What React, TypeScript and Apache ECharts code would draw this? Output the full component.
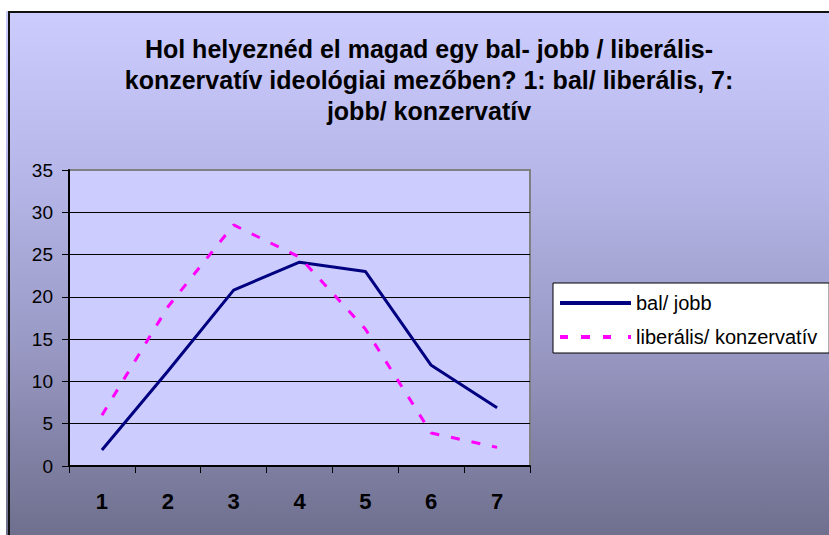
import React, { useEffect, useRef } from "react";
import * as echarts from "echarts";

const categories = ["1", "2", "3", "4", "5", "6", "7"];
const balJobb = [1.9, 11.2, 20.8, 24.1, 23.0, 11.9, 6.9];
const liberalisKonzervativ = [6.0, 18.8, 28.5, 24.7, 16.2, 3.9, 2.2];
const seriesNames = ["bal/ jobb", "liberális/ konzervatív"];
const titleText =
  "Hol helyeznéd el magad egy bal- jobb / liberális-\nkonzervatív ideológiai mezőben? 1: bal/ liberális, 7:\njobb/ konzervatív";

export default function App() {
  const ref = useRef<HTMLDivElement>(null);

  useEffect(() => {
    if (!ref.current) return;
    const chart = echarts.init(ref.current, undefined, { renderer: "svg" });
    const font = "'Liberation Sans', Arial, sans-serif";
    chart.setOption({
      animation: false,
      backgroundColor: "transparent",
      title: {
        text: titleText,
        left: 424,
        top: 28,
        textAlign: "center",
        textStyle: {
          fontFamily: font,
          fontWeight: "bold",
          fontSize: 25,
          lineHeight: 31,
          color: "#000",
        },
      },
      legend: {
        orient: "vertical",
        left: 553,
        top: 283,
        padding: [10, 12, 6, 7],
        itemGap: 14,
        itemWidth: 71,
        itemHeight: 14,
        backgroundColor: "#fff",
        borderColor: "#000",
        borderWidth: 1,
        borderRadius: 0,
        textStyle: { fontFamily: font, fontSize: 20, color: "#000" },
        itemStyle: { borderWidth: 0 },
        lineStyle: { width: 0, opacity: 0 },
        data: [
          { name: seriesNames[0], icon: "path://M0,0h71v4h-71z" },
          {
            name: seriesNames[1],
            icon: "path://M0,0h8v4h-8zM21,0h9v4h-9zM43,0h8v4h-8zM68,0h3v4h-3z",
          },
        ],
      },
      grid: {
        left: 69,
        top: 170,
        width: 461,
        height: 296,
        show: true,
        backgroundColor: "#CCCCFF",
        borderColor: "#808080",
        borderWidth: 2,
      },
      xAxis: {
        type: "category",
        data: categories,
        boundaryGap: true,
        axisLine: { show: true, lineStyle: { color: "#000", width: 2 } },
        axisTick: { show: true, length: 7, lineStyle: { color: "#000", width: 1 } },
        axisLabel: {
          margin: 24,
          fontFamily: font,
          fontWeight: "bold",
          fontSize: 22,
          color: "#000",
        },
        splitLine: { show: false },
      },
      yAxis: {
        type: "value",
        min: 0,
        max: 35,
        interval: 5,
        axisLine: { show: true, lineStyle: { color: "#000", width: 2 } },
        axisTick: { show: true, length: 7, lineStyle: { color: "#000", width: 1 } },
        axisLabel: {
          margin: 16,
          fontFamily: font,
          fontSize: 19,
          color: "#000",
        },
        splitLine: {
          show: true,
          showMaxLine: false,
          showMinLine: false,
          lineStyle: { color: "#000", width: 1 },
        },
      },
      series: [
        {
          name: seriesNames[0],
          type: "line",
          data: balJobb,
          symbol: "none",
          lineStyle: { color: "#000080", width: 3 },
          itemStyle: { color: "#000080" },
        },
        {
          name: seriesNames[1],
          type: "line",
          data: liberalisKonzervativ,
          symbol: "none",
          lineStyle: { color: "#FF00FF", width: 3, type: [9, 12] },
          itemStyle: { color: "#FF00FF" },
        },
      ],
    });
    return () => chart.dispose();
  }, []);

  return (
    <div
      style={{
        position: "absolute",
        left: 0,
        top: 0,
        width: 829,
        height: 535,
        overflow: "hidden",
        background: "#fff",
      }}
    >
      <div
        style={{
          position: "absolute",
          left: 6,
          top: 11,
          width: 900,
          height: 600,
          background:
            "linear-gradient(to bottom, #CCCCFF 0%, #B4B4E6 30%, #9A9AC6 55%, #5E5E78 100%)",
        }}
      />
      <div
        style={{
          position: "absolute",
          left: 8,
          top: 11,
          width: 900,
          height: 600,
          borderLeft: "2px solid #111",
          borderTop: "2px solid #111",
        }}
      />
      <div
        ref={ref}
        style={{ position: "absolute", left: 0, top: 0, width: 829, height: 535 }}
      />
    </div>
  );
}
